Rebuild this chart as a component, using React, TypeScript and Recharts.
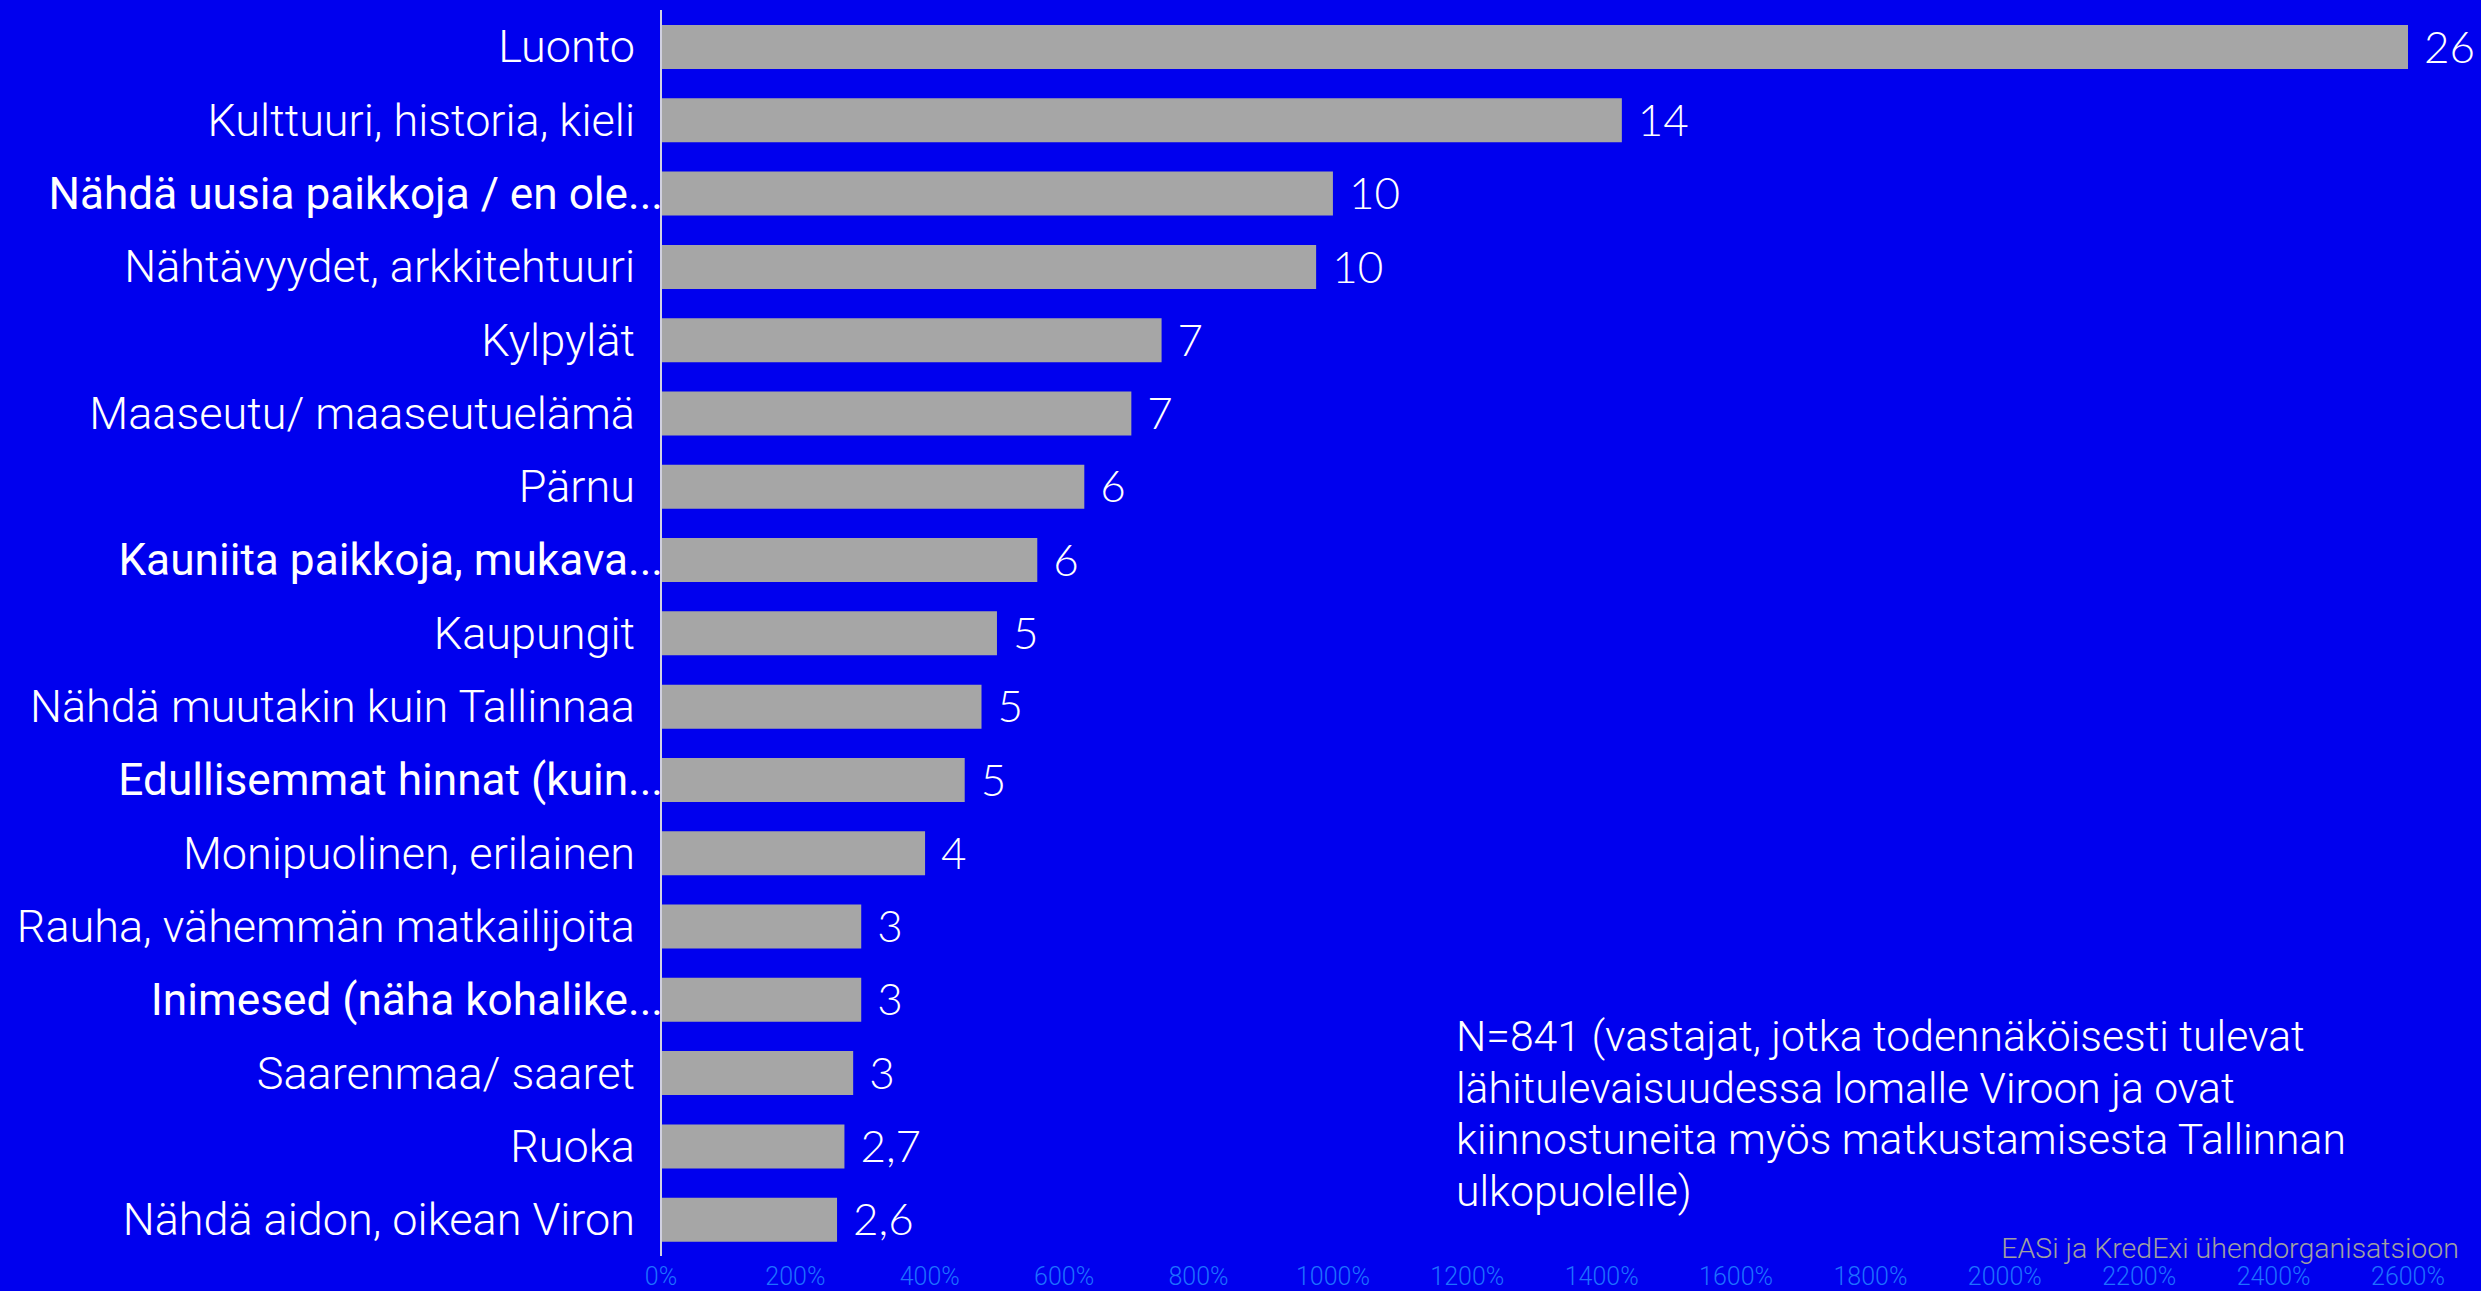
import React from "react";
import { BarChart, Bar, XAxis, YAxis, LabelList } from "recharts";

const categories = [
  "Luonto",
  "Kulttuuri, historia, kieli",
  "Nähdä uusia paikkoja / en ole...",
  "Nähtävyydet, arkkitehtuuri",
  "Kylpylät",
  "Maaseutu/ maaseutuelämä",
  "Pärnu",
  "Kauniita paikkoja, mukava...",
  "Kaupungit",
  "Nähdä muutakin kuin Tallinnaa",
  "Edullisemmat hinnat (kuin...",
  "Monipuolinen, erilainen",
  "Rauha, vähemmän matkailijoita",
  "Inimesed (näha kohalike...",
  "Saarenmaa/ saaret",
  "Ruoka",
  "Nähdä aidon, oikean Viron",
];

const values = [26.0, 14.3, 10.0, 9.75, 7.45, 7.0, 6.3, 5.6, 5.0, 4.77, 4.52, 3.93, 2.98, 2.98, 2.86, 2.73, 2.62];

const valueLabels = ["26", "14", "10", "10", "7", "7", "6", "6", "5", "5", "5", "4", "3", "3", "3", "2,7", "2,6"];

const emphasized = [
  "Nähdä uusia paikkoja / en ole...",
  "Kauniita paikkoja, mukava...",
  "Edullisemmat hinnat (kuin...",
  "Inimesed (näha kohalike...",
];

const xTicks = [0, 2, 4, 6, 8, 10, 12, 14, 16, 18, 20, 22, 24, 26];

const noteLines = [
  "N=841 (vastajat, jotka todennäköisesti tulevat",
  "lähitulevaisuudessa lomalle Viroon ja ovat",
  "kiinnostuneita myös matkustamisesta Tallinnan",
  "ulkopuolelle)",
];

const sourceText = "EASi ja KredExi ühendorganisatsioon";

const data = categories.map((c, i) => ({ name: c, value: values[i], label: valueLabels[i] }));

const BG = "#0000EE";
const FONT = "Roboto, 'Open Sans', sans-serif";
const TICK_GAP = 20;

const CategoryTick = (props: any) => {
  const { x, y, payload } = props;
  const bold = emphasized.includes(payload.value);
  return (
    <text
      x={bold ? x + TICK_GAP + 8 : x}
      y={y}
      dy="0.35em"
      textAnchor="end"
      fill="#FFFFFF"
      fontFamily={FONT}
      fontWeight={bold ? 400 : 300}
      fontSize={bold ? 44.2 : 45}
    >
      {payload.value}
    </text>
  );
};

export default function App() {
  return (
    <div style={{ position: "relative", width: 2481, height: 1291, background: BG, overflow: "hidden" }}>
      <style>{`body{margin:0}`}</style>
      <BarChart
        width={2481}
        height={1291}
        data={data}
        layout="vertical"
        margin={{ top: 10, right: 73, bottom: 0, left: 0 }}
      >
        <XAxis
          type="number"
          domain={[0, 26]}
          ticks={xTicks}
          tickFormatter={(v: number) => `${v * 100}%`}
          axisLine={false}
          tickLine={false}
          height={35}
          tickMargin={5}
          interval={0}
          tick={{ fill: "#1E70FF", fontSize: 25, fontFamily: FONT, fontWeight: 300 }}
        />
        <YAxis
          type="category"
          dataKey="name"
          width={661}
          axisLine={{ stroke: "#D0D0E0", strokeWidth: 2 }}
          tickLine={false}
          tickMargin={TICK_GAP}
          interval={0}
          tick={<CategoryTick />}
        />
        <Bar dataKey="value" fill="#A6A6A6" barSize={44} isAnimationActive={false}>
          <LabelList
            dataKey="label"
            position="right"
            offset={16}
            fill="#FFFFFF"
            fontSize={44}
            fontFamily="Lato, 'Noto Sans', sans-serif"
            fontWeight={300}
          />
        </Bar>
      </BarChart>
      <div
        style={{
          position: "absolute",
          left: 1456,
          top: 1011,
          color: "#FFFFFF",
          fontFamily: FONT,
          fontWeight: 300,
          fontSize: 42.7,
          lineHeight: "51.5px",
          whiteSpace: "nowrap",
        }}
      >
        {noteLines.map((l, i) => (
          <div key={i}>{l}</div>
        ))}
      </div>
      <div
        style={{
          position: "absolute",
          right: 22,
          top: 1231,
          color: "#A0A0A0",
          fontFamily: FONT,
          fontWeight: 300,
          fontSize: 28.5,
          lineHeight: "36px",
          whiteSpace: "nowrap",
        }}
      >
        {sourceText}
      </div>
    </div>
  );
}
